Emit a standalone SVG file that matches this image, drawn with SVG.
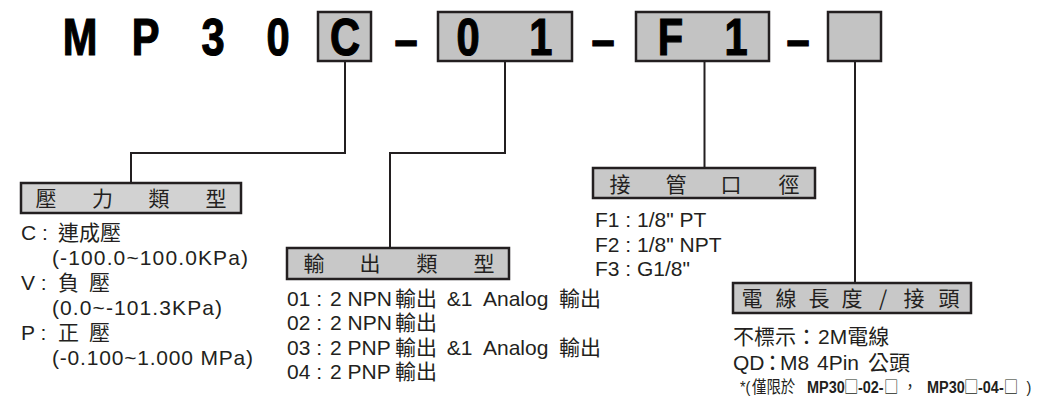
<svg xmlns="http://www.w3.org/2000/svg" width="1040" height="397" viewBox="0 0 1040 397">
<style>
.code{font-family:"Liberation Sans",Arial,sans-serif;font-weight:bold;font-size:52px;fill:#000;stroke:#000;stroke-width:1.2;text-anchor:middle}
.cbox{fill:#c3c3c3;stroke:#231f20;stroke-width:2.5}
.lbox{fill:#c8c8c8;stroke:#231f20;stroke-width:2.5}
.lbl{font-family:"Noto Sans CJK TC","Noto Sans CJK SC",sans-serif;font-size:21px;fill:#231f20;text-anchor:middle}
.t{font-family:"Liberation Sans","Noto Sans CJK TC",sans-serif;font-size:21px;fill:#231f20}
.cj{font-family:"Noto Sans CJK TC","Noto Sans CJK SC",sans-serif}
.fn{font-family:"Liberation Sans","Noto Sans CJK TC",sans-serif;font-size:17px;fill:#231f20}
.b{font-weight:bold}
.conn{fill:none;stroke:#231f20;stroke-width:2}
</style>

<g id="connectors">
<polyline class="conn" points="345,61 345,153 131,153 131,183"/>
<polyline class="conn" points="505,61 505,153 390,153 390,248"/>
<polyline class="conn" points="704.5,61 704.5,168"/>
<polyline class="conn" points="855,61 855,283"/>
</g>

<g id="code-boxes">
<rect id="box-c" class="cbox" x="318" y="12" width="53" height="49"/>
<rect id="box-01" class="cbox" x="438" y="12" width="134" height="49"/>
<rect id="box-f1" class="cbox" x="636" y="12" width="133" height="49"/>
<rect id="box-opt" class="cbox" x="828" y="12" width="53" height="49"/>
</g>

<g id="code" transform="scale(0.8 1)">
<text class="code" x="100" y="55">M</text>
<text class="code" x="181.9" y="55">P</text>
<text class="code" x="266.3" y="55">3</text>
<text class="code" x="347.5" y="55">0</text>
<text class="code" x="431.3" y="55">C</text>
<text class="code" x="507.5" y="57">–</text>
<text class="code" x="585" y="55">0</text>
<text class="code" x="676" y="55">1</text>
<text class="code" x="753.8" y="57">–</text>
<text class="code" x="838.1" y="55">F</text>
<text class="code" x="920" y="55">1</text>
<text class="code" x="997.5" y="57">–</text>
</g>

<g id="pressure-type">
<rect class="lbox" x="21" y="183" width="220" height="30" style="fill:#d2d2d2"/>
<text class="lbl" y="206"><tspan x="46">壓</tspan><tspan x="102.5">力</tspan><tspan x="159">類</tspan><tspan x="216">型</tspan></text>
<text class="t" x="21" y="240">C : <tspan class="cj" x="58">連成壓</tspan></text>
<text class="t" x="52" y="265" textLength="196" lengthAdjust="spacing">(-100.0~100.0KPa)</text>
<text class="t" x="21" y="290">V : <tspan class="cj" x="58">負</tspan> <tspan class="cj" x="89">壓</tspan></text>
<text class="t" x="52" y="315" textLength="170" lengthAdjust="spacing">(0.0~-101.3KPa)</text>
<text class="t" x="21" y="340">P : <tspan class="cj" x="58">正</tspan> <tspan class="cj" x="89">壓</tspan></text>
<text class="t" x="52" y="365" textLength="201" lengthAdjust="spacing">(-0.100~1.000 MPa)</text>
</g>

<g id="output-type">
<rect class="lbox" x="287" y="248" width="222" height="31"/>
<text class="lbl" y="271"><tspan x="314">輸</tspan><tspan x="370">出</tspan><tspan x="427">類</tspan><tspan x="484">型</tspan></text>
<text class="t" y="306"><tspan x="287">01 : </tspan><tspan x="330">2 NPN</tspan><tspan class="cj" x="395">輸出</tspan><tspan x="441"> &amp;1 </tspan><tspan x="483">Analog </tspan><tspan class="cj" x="559">輸出</tspan></text>
<text class="t" y="330"><tspan x="287">02 : </tspan><tspan x="330">2 NPN</tspan><tspan class="cj" x="395">輸出</tspan></text>
<text class="t" y="355"><tspan x="287">03 : </tspan><tspan x="330">2 PNP</tspan><tspan class="cj" x="395">輸出</tspan><tspan x="441"> &amp;1 </tspan><tspan x="483">Analog </tspan><tspan class="cj" x="559">輸出</tspan></text>
<text class="t" y="379"><tspan x="287">04 : </tspan><tspan x="330">2 PNP</tspan><tspan class="cj" x="395">輸出</tspan></text>
</g>

<g id="port-size">
<rect class="lbox" x="593" y="168" width="222" height="30"/>
<text class="lbl" y="192"><tspan x="620">接</tspan><tspan x="676">管</tspan><tspan x="731">口</tspan><tspan x="789">徑</tspan></text>
<text class="t" x="595" y="227">F1 : 1/8" PT</text>
<text class="t" x="595" y="252">F2 : 1/8" NPT</text>
<text class="t" x="595" y="276">F3 : G1/8"</text>
</g>

<g id="cable-connector">
<rect class="lbox" x="733" y="283" width="238" height="30"/>
<text class="lbl" y="306"><tspan x="752">電</tspan><tspan x="786">線</tspan><tspan x="819">長</tspan><tspan x="852">度</tspan><tspan x="883">/</tspan><tspan x="914">接</tspan><tspan x="949">頭</tspan></text>
<text class="t" x="733" y="344"><tspan class="cj">不標示：</tspan><tspan x="818">2M</tspan><tspan class="cj">電線</tspan></text>
<text class="t" y="370"><tspan x="733">QD</tspan><tspan class="cj" x="762">：</tspan><tspan x="780">M8 </tspan><tspan x="817">4Pin </tspan><tspan class="cj" x="868">公頭</tspan></text>
<g transform="scale(0.85 1)">
<text class="fn" y="393"><tspan x="870.6">*(</tspan><tspan class="cj" x="884.7">僅限於 </tspan><tspan class="b" x="949.4">MP30</tspan><tspan class="cj" x="992.9">□</tspan><tspan class="b" x="1009.4">-02-</tspan><tspan class="cj" x="1040">□</tspan><tspan class="cj" x="1062">，</tspan><tspan class="b" x="1090.6">MP30</tspan><tspan class="cj" x="1134.1">□</tspan><tspan class="b" x="1150.6">-04-</tspan><tspan class="cj" x="1181">□</tspan><tspan x="1203"> )</tspan></text>
</g>
</g>
</svg>
